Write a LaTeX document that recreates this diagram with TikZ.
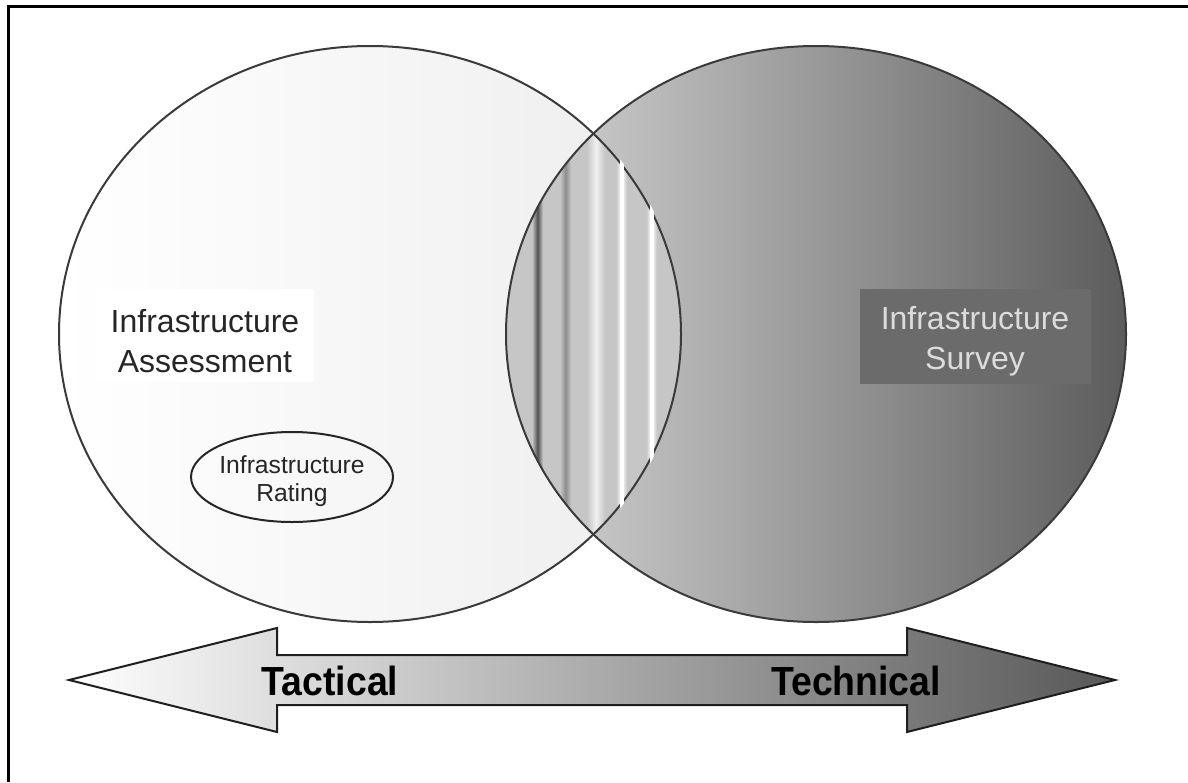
\documentclass[tikz,border=0pt]{standalone}
\usepackage{fontspec}
\setmainfont{Liberation Sans}
\newfontfamily\arrowfont[FakeStretch=0.92]{Liberation Sans}
\definecolor{outl}{HTML}{3A3A3A}
\definecolor{leftR}{HTML}{EDEDED}
\definecolor{rightL}{HTML}{D6D6D6}
\definecolor{rightR}{HTML}{5C5C5C}
\definecolor{lensg}{HTML}{C6C6C6}
\definecolor{survbox}{HTML}{6B6B6B}
\definecolor{survtext}{HTML}{DCDCDC}
\definecolor{arrowR}{HTML}{585858}
\definecolor{arrowline}{HTML}{1E1E1E}
\tikzset{
  venn/.style={draw=outl, line width=1.5pt},
  bigtext/.style={align=center, font=\fontsize{24}{30}\selectfont, inner sep=0pt},
  smalltext/.style={align=center, font=\fontsize{18.5}{21}\selectfont, inner sep=0pt},
  arrowtext/.style={font=\arrowfont\bfseries\fontsize{30.5}{32}\selectfont, inner sep=0pt, text=black},
  stripe/.style={draw=none},
}
\begin{document}
\begin{tikzpicture}[x=0.75pt, y=-0.75pt]
\useasboundingbox (0,0) rectangle (1188,782);
% frame (top and left only)
\draw[line width=2.25pt] (8.5,6.5) -- (1188,6.5);
\draw[line width=2.25pt] (8.5,5.4) -- (8.5,782);
% circles
\shade[left color=white, right color=leftR] (370,334) ellipse [x radius=311, y radius=288];
\shade[left color=rightL, right color=rightR] (816,334) ellipse [x radius=310, y radius=288];
% lens base and stripes
\begin{scope}
  \clip (370,334) ellipse [x radius=311, y radius=288];
  \clip (816,334) ellipse [x radius=310, y radius=288];
  \fill[lensg] (500,100) rectangle (690,570);
  \shade[stripe, left color=lensg, right color=lensg, middle color=black!68] (532,100) rectangle (543,570);
  \shade[stripe, left color=lensg, right color=lensg, middle color=black!45] (560,100) rectangle (571,570);
  \shade[stripe, left color=lensg, right color=lensg, middle color=black!6] (587,100) rectangle (605,570);
  \shade[stripe, left color=lensg, right color=lensg, middle color=white] (616,100) rectangle (627,570);
  \shade[stripe, left color=lensg, right color=lensg, middle color=white] (646,100) rectangle (657,570);
\end{scope}
% outlines
\draw[venn] (370,334) ellipse [x radius=311, y radius=288];
\draw[venn] (816,334) ellipse [x radius=310, y radius=288];
% white cores cutting the right arc of the lens
\begin{scope}
  \clip (370,334) ellipse [x radius=313, y radius=290];
  \clip (816,334) ellipse [x radius=309, y radius=287];
  \fill[white] (620,100) rectangle (623.5,570);
  \fill[white] (650,100) rectangle (653.5,570);
\end{scope}
% labels
\fill[white] (95,289) rectangle (314,382);
\node[bigtext, text=black!85] (assess) at (205,341) {Infrastructure\\Assessment};
\fill[survbox] (860,289) rectangle (1091,384);
\node[bigtext, text=survtext] (survey) at (975,341) {Infrastructure\\Survey};
\draw[venn, draw=black!85] (292,477) ellipse [x radius=101, y radius=45];
\node[smalltext, text=black!85] (rating) at (292,481) {Infrastructure\\Rating};
% double arrow
\shade[left color=white, right color=arrowR, draw=arrowline, line width=1.5pt, line join=miter]
  (69,680) -- (277,628) -- (277,655) -- (907,655) -- (907,628) -- (1115,680)
  -- (907,732) -- (907,705) -- (277,705) -- (277,732) -- cycle;
\node[arrowtext] (tactical) at (330,681) {Tactical};
\node[arrowtext] (technical) at (856,681) {Technical};
\end{tikzpicture}
\end{document}
